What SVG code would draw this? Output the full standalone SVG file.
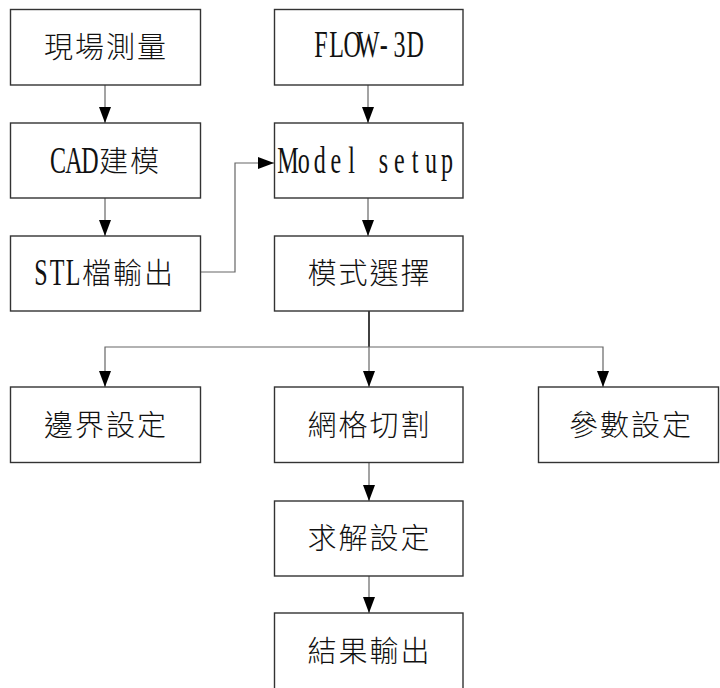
<svg xmlns="http://www.w3.org/2000/svg" width="720" height="688" viewBox="0 0 720 688">
<style>
.box{fill:#fff;stroke:#333;stroke-width:1.4}
.t{font-family:"Noto Sans CJK TC","Noto Sans CJK SC",sans-serif;font-size:29px;font-weight:300;letter-spacing:2px;fill:#111;text-anchor:middle}
.j{font-family:"Noto Sans CJK TC","Noto Sans CJK SC",sans-serif;font-size:29px;font-weight:300;letter-spacing:2px;fill:#111;text-anchor:start}
.m{font-family:"Liberation Serif",serif;font-size:37px;fill:#111;text-anchor:middle}
.c{fill:none;stroke:#666;stroke-width:1.2}
.k{fill:none;stroke:#111;stroke-width:1.6}
</style>
<defs>
<marker id="ah" markerUnits="userSpaceOnUse" markerWidth="16" markerHeight="12" refX="16" refY="6" orient="auto">
<path d="M0,0 L16,6 L0,12 Z" fill="#000"/>
</marker>
</defs>
<rect width="720" height="688" fill="#fff"/>
<g id="connectors">
<path class="c" d="M105,85 V123" marker-end="url(#ah)"/>
<path class="c" d="M105,198 V236" marker-end="url(#ah)"/>
<path class="c" d="M368,85 V123" marker-end="url(#ah)"/>
<path class="c" d="M200,272 H235 V163 H274" marker-end="url(#ah)"/>
<path class="c" d="M368,198 V236" marker-end="url(#ah)"/>
<path class="k" d="M369,311 V347"/>
<path class="c" d="M369,347 H105 V387" marker-end="url(#ah)"/>
<path class="c" d="M369,347 V387" marker-end="url(#ah)"/>
<path class="c" d="M369,347 H603 V387" marker-end="url(#ah)"/>
<path class="c" d="M369,462 V501" marker-end="url(#ah)"/>
<path class="c" d="M369,576 V613" marker-end="url(#ah)"/>
</g>
<g id="n1"><rect class="box" x="10.5" y="9.5" width="190" height="75.5"/><text class="t" x="106" y="58">現場測量</text></g>
<g id="n2"><rect class="box" x="274.5" y="9.5" width="188.5" height="75.5"/><text class="m" transform="scale(0.65,1)" x="493.7 517.8 542.0 566.2 590.3 614.5 638.6" y="57">FLOW-3D</text></g>
<g id="n3"><rect class="box" x="10.5" y="123" width="190" height="75"/><text class="m" transform="scale(0.65,1)" x="89.2 113.8 138.5" y="173">CAD</text><text class="j" x="99" y="172">建模</text></g>
<g id="n4"><rect class="box" x="274.5" y="123" width="188.5" height="75"/><text class="m" transform="scale(0.65,1)" x="443.1 467.5 492.0 516.5 540.9 565.4 589.8 614.3 638.8 663.2 687.7" y="173">Model setup</text></g>
<g id="n5"><rect class="box" x="10.5" y="236" width="190" height="75"/><text class="m" transform="scale(0.65,1)" x="63.1 87.7 112.3" y="285">STL</text><text class="j" x="82" y="284">檔輸出</text></g>
<g id="n6"><rect class="box" x="274.5" y="236" width="188.5" height="75"/><text class="t" x="369.5" y="284">模式選擇</text></g>
<g id="n7"><rect class="box" x="10.5" y="387" width="190" height="75.5"/><text class="t" x="106" y="436">邊界設定</text></g>
<g id="n8"><rect class="box" x="274.5" y="387" width="188.5" height="75.5"/><text class="t" x="369.5" y="436">網格切割</text></g>
<g id="n9"><rect class="box" x="538.5" y="387" width="180" height="75.5"/><text class="t" x="631" y="436">參數設定</text></g>
<g id="n10"><rect class="box" x="274.5" y="501" width="188.5" height="75"/><text class="t" x="369.5" y="549">求解設定</text></g>
<g id="n11"><rect class="box" x="274.5" y="613" width="188.5" height="90"/><text class="t" x="369.5" y="662">結果輸出</text></g>
</svg>
